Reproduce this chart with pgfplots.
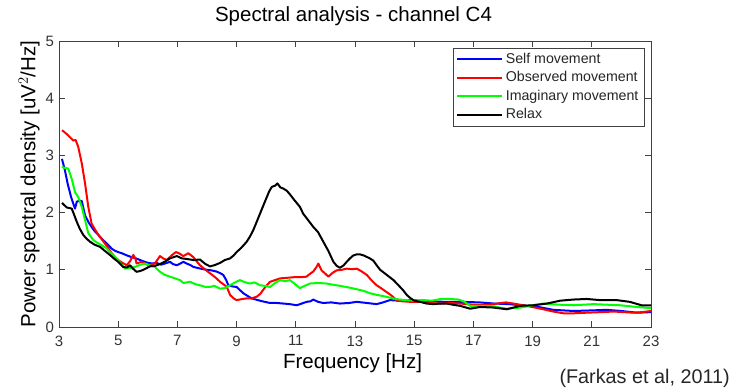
\documentclass[border=0pt]{standalone}
\usepackage{fontspec}
\setmainfont{Liberation Sans}
\usepackage{pgfplots}
\pgfplotsset{compat=1.18}
\definecolor{mblue}{rgb}{0,0,1}
\definecolor{mred}{rgb}{1,0,0}
\definecolor{mgreen}{rgb}{0,1,0}
\definecolor{axgray}{gray}{0.25}
\begin{document}
\begin{tikzpicture}
\path[use as bounding box] (-59pt,-62pt) rectangle (675pt,327pt);
\begin{axis}[
  at={(0,0)}, anchor=south west,
  scale only axis, width=592pt, height=286pt,
  xmin=3, xmax=23, ymin=0, ymax=5,
  xtick={3,5,...,23}, ytick={0,1,...,5},
  tick align=inside, major tick length=6pt,
  axis line style={axgray, line width=0.8pt},
  every tick/.style={axgray, line width=0.8pt},
  /pgf/number format/assume math mode=true,
  ticklabel style={font=\fontsize{15}{15}\selectfont, text=black!80},
  xticklabel style={yshift=-5pt},
  yticklabel style={xshift=-1.5pt},
  title={Spectral analysis - channel C4},
  title style={at={(axis description cs:0.4975,1.0479)}, anchor=base, font=\fontsize{20.5}{20.5}\selectfont},
  xlabel={Frequency [Hz]},
  xlabel style={at={(axis description cs:0.4958,-0.1434)}, anchor=base, font=\fontsize{20.5}{20.5}\selectfont},
  ylabel={Power spectral density [uV$^2$/Hz]},
  ylabel style={at={(axis description cs:-0.040,0.5)}, anchor=base, rotate=0, font=\fontsize{20.5}{20.5}\selectfont},
  legend cell align=left,
  legend image code/.code={\draw[#1, line width=2pt] (0pt,0pt) -- (45pt,0pt);},
  legend style={at={(axis description cs:0.9887,0.9766)}, anchor=north east,
    draw=axgray, line width=0.8pt, fill=white,
    font=\fontsize{14.2}{14.2}\selectfont, text=black!85,
    inner xsep=3pt, inner ysep=2pt, row sep=0pt,
    nodes={inner sep=2.5pt, text height=10.5pt, text depth=3pt}},
  every axis plot/.append style={line width=2pt, line join=round},
]
\addplot[mblue] coordinates {
(3.1,2.94)(3.2,2.74)(3.29,2.51)(3.41,2.27)(3.54,2.07)(3.6,2.19)(3.7,2.21)(3.77,2.2)(3.88,1.95)(4.0,1.83)
(4.1,1.75)(4.2,1.68)(4.33,1.61)(4.45,1.54)(4.55,1.49)(4.65,1.44)(4.78,1.37)(4.9,1.33)(5.0,1.31)(5.12,1.29)
(5.3,1.25)(5.46,1.22)(5.6,1.2)(5.79,1.16)(5.95,1.13)(6.13,1.11)(6.3,1.12)(6.45,1.09)(6.58,1.11)(6.75,1.14)
(6.85,1.1)(6.98,1.08)(7.1,1.11)(7.2,1.14)(7.31,1.11)(7.45,1.08)(7.54,1.05)(7.7,1.03)(7.88,1.01)(8.0,1.0)
(8.15,0.99)(8.32,0.97)(8.45,0.94)(8.55,0.91)(8.65,0.82)(8.72,0.73)(8.85,0.71)(9.0,0.70)(9.1,0.65)(9.23,0.59)
(9.35,0.55)(9.51,0.50)(9.65,0.48)(9.79,0.46)(9.95,0.44)(10.13,0.42)(10.35,0.42)(10.58,0.41)(10.8,0.40)(11.03,0.38)
(11.2,0.41)(11.37,0.44)(11.5,0.45)(11.59,0.48)(11.75,0.44)(11.93,0.42)(12.2,0.43)(12.49,0.41)(12.8,0.42)(13.06,0.44)
(13.4,0.42)(13.73,0.40)(13.95,0.43)(14.18,0.47)(14.5,0.46)(14.86,0.47)(15.2,0.46)(15.6,0.45)(16.0,0.44)(16.6,0.44)
(17.2,0.43)(17.7,0.41)(18.2,0.40)(18.58,0.38)(19.1,0.36)(19.7,0.30)(20.38,0.28)(21.0,0.29)(21.5,0.30)(22.0,0.28)
(22.53,0.25)(23,0.26)
};
\addlegendentry{Self movement}
\addplot[mred] coordinates {
(3.1,3.44)(3.2,3.40)(3.31,3.35)(3.48,3.26)(3.56,3.27)(3.65,3.15)(3.77,2.86)(3.88,2.51)(3.99,2.10)(4.1,1.81)
(4.2,1.72)(4.33,1.61)(4.45,1.53)(4.55,1.46)(4.65,1.39)(4.78,1.29)(4.9,1.22)(5.0,1.17)(5.15,1.12)(5.29,1.08)
(5.4,1.15)(5.51,1.26)(5.58,1.20)(5.62,1.11)(5.79,1.14)(6.02,1.08)(6.24,1.11)(6.41,1.24)(6.52,1.20)(6.64,1.17)
(6.8,1.25)(6.95,1.31)(7.05,1.29)(7.2,1.24)(7.37,1.29)(7.54,1.22)(7.76,1.08)(7.95,1.0)(8.1,0.94)(8.3,0.86)
(8.44,0.79)(8.6,0.73)(8.67,0.70)(8.78,0.56)(8.9,0.50)(9.0,0.47)(9.2,0.49)(9.34,0.50)(9.5,0.50)(9.68,0.53)
(9.8,0.58)(9.9,0.65)(10.0,0.72)(10.13,0.79)(10.3,0.82)(10.47,0.85)(10.7,0.86)(10.92,0.87)(11.15,0.87)(11.36,0.88)
(11.48,0.93)(11.59,0.97)(11.7,1.05)(11.76,1.11)(11.87,0.99)(12.0,0.93)(12.1,0.88)(12.25,0.95)(12.38,0.99)(12.55,1.00)
(12.72,1.02)(12.9,1.01)(13.06,1.02)(13.2,0.98)(13.4,0.91)(13.55,0.82)(13.73,0.73)(13.96,0.65)(14.18,0.57)(14.3,0.52)
(14.41,0.46)(14.6,0.45)(14.86,0.44)(15.2,0.44)(15.5,0.42)(15.87,0.41)(16.2,0.42)(16.55,0.41)(17.0,0.39)(17.4,0.38)
(17.79,0.41)(18.1,0.43)(18.35,0.41)(18.8,0.37)(19.36,0.31)(19.7,0.27)(20.04,0.24)(20.4,0.24)(20.83,0.25)(21.3,0.26)
(21.73,0.27)(22.1,0.26)(22.4,0.25)(22.7,0.26)(23,0.28)
};
\addlegendentry{Observed movement}
\addplot[mgreen] coordinates {
(3.1,2.80)(3.2,2.78)(3.31,2.77)(3.43,2.59)(3.54,2.36)(3.65,2.27)(3.77,2.10)(3.88,1.87)(3.99,1.64)(4.16,1.52)
(4.3,1.47)(4.44,1.43)(4.6,1.38)(4.72,1.31)(4.85,1.25)(5.0,1.17)(5.1,1.10)(5.23,1.02)(5.4,1.03)(5.57,1.05)
(5.75,1.09)(5.9,1.11)(6.05,1.08)(6.24,1.05)(6.4,0.97)(6.58,0.91)(6.75,0.88)(6.92,0.85)(7.09,0.82)(7.2,0.77)
(7.43,0.79)(7.6,0.75)(7.76,0.73)(7.95,0.70)(8.1,0.70)(8.25,0.72)(8.44,0.67)(8.6,0.68)(8.78,0.73)(8.95,0.78)
(9.11,0.82)(9.3,0.78)(9.45,0.76)(9.6,0.78)(9.79,0.73)(9.95,0.72)(10.13,0.70)(10.3,0.77)(10.47,0.82)(10.65,0.80)
(10.8,0.82)(10.95,0.76)(11.14,0.68)(11.3,0.72)(11.48,0.76)(11.75,0.77)(12.04,0.76)(12.25,0.74)(12.49,0.72)(12.8,0.69)
(13.06,0.66)(13.3,0.63)(13.51,0.59)(13.75,0.56)(13.96,0.54)(14.29,0.50)(14.5,0.48)(14.74,0.47)(15.0,0.46)(15.31,0.47)
(15.6,0.46)(15.9,0.49)(16.2,0.49)(16.5,0.48)(16.7,0.44)(16.89,0.37)(17.2,0.37)(17.7,0.36)(18.1,0.32)(18.6,0.34)
(19.0,0.38)(19.36,0.41)(19.9,0.39)(20.38,0.38)(21.06,0.40)(21.5,0.39)(21.96,0.38)(22.52,0.35)(23,0.33)
};
\addlegendentry{Imaginary movement}
\addplot[black] coordinates {
(3.1,2.17)(3.26,2.09)(3.43,2.07)(3.52,1.95)(3.6,1.84)(3.7,1.72)(3.82,1.61)(3.92,1.55)(4.05,1.49)(4.2,1.44)
(4.39,1.40)(4.55,1.33)(4.72,1.26)(4.85,1.20)(5.0,1.14)(5.17,1.05)(5.3,1.04)(5.4,1.08)(5.5,1.02)(5.62,0.965)
(5.75,0.98)(5.85,1.0)(6.07,1.06)(6.25,1.07)(6.41,1.1)(6.6,1.15)(6.75,1.2)(6.98,1.24)(7.15,1.2)(7.31,1.19)
(7.55,1.17)(7.76,1.18)(7.95,1.10)(8.1,1.06)(8.25,1.08)(8.44,1.12)(8.6,1.17)(8.78,1.2)(8.9,1.25)(9.0,1.31)
(9.15,1.38)(9.34,1.49)(9.45,1.58)(9.56,1.69)(9.68,1.84)(9.79,1.98)(9.9,2.12)(10.02,2.27)(10.1,2.37)(10.19,2.45)
(10.3,2.47)(10.38,2.51)(10.48,2.44)(10.58,2.42)(10.7,2.38)(10.8,2.32)(10.95,2.22)(11.14,2.10)(11.25,1.98)(11.4,1.88)
(11.59,1.75)(11.75,1.66)(11.93,1.49)(12.1,1.33)(12.27,1.14)(12.38,1.07)(12.49,1.035)(12.62,1.08)(12.72,1.14)(12.83,1.2)
(12.94,1.25)(13.06,1.27)(13.17,1.27)(13.3,1.25)(13.5,1.2)(13.62,1.16)(13.73,1.08)(13.85,1.0)(14.05,0.92)(14.3,0.82)
(14.45,0.74)(14.63,0.64)(14.75,0.56)(14.86,0.51)(15.0,0.46)(15.2,0.44)(15.42,0.41)(15.65,0.40)(15.87,0.41)(16.1,0.41)
(16.3,0.39)(16.55,0.37)(16.89,0.32)(17.23,0.35)(17.68,0.34)(18.13,0.31)(18.58,0.37)(19.03,0.38)(19.48,0.41)(19.93,0.46)
(20.38,0.48)(20.83,0.49)(21.28,0.47)(21.84,0.47)(22.28,0.44)(22.68,0.38)(23,0.38)
};
\addlegendentry{Relax}
\end{axis}
\node[anchor=base west, inner sep=0pt, font=\fontsize{19.8}{19.8}\selectfont, text=black!85] at (500.3pt,-56.3pt) {(Farkas et al, 2011)};
\end{tikzpicture}
\end{document}
